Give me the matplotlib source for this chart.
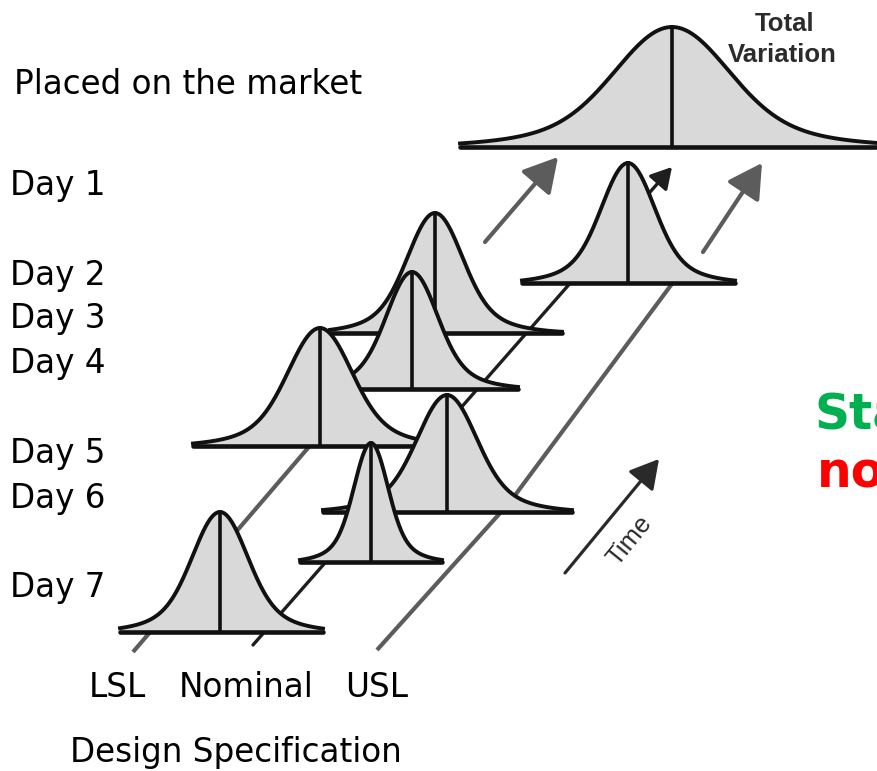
import numpy as np
import matplotlib
matplotlib.use("Agg")
import matplotlib.pyplot as plt

W, H = 878, 771

# bell curves (picture pixel units, y grows downward)
curve_names = ["Total Variation", "Day 1", "Day 2", "Day 3", "Day 4", "Day 5", "Day 6", "Day 7"]
curve_mu = [672, 628, 435, 412, 320, 447, 371, 220]
curve_base = [147, 283, 333, 389, 446, 512, 562, 632]
curve_height = [120, 120, 120, 117, 118, 117, 119, 120]
curve_sigma = [54, 25, 26, 24, 30, 28, 16, 26]
curve_left = [460, 522, 330, 335, 193, 323, 300, 120]
curve_right = [882, 735, 562, 518, 440, 572, 442, 323]

# spec limit lines going up through time
lsl_line_x = [133, 458]
lsl_line_y = [652, 273]
lsl_arrow_x = [485, 558]
lsl_arrow_y = [242, 157]
usl_line_x = [377, 510, 680]
usl_line_y = [650, 502, 273]
usl_arrow_x = [703, 762]
usl_arrow_y = [252, 163]
nom_x = [253, 672]
nom_y = [645, 167]
time_x = [565, 659]
time_y = [573, 459]

# left hand labels
day_labels = ["Placed on the market", "Day 1", "Day 2", "Day 3", "Day 4", "Day 5", "Day 6", "Day 7"]
day_label_x = [14, 10, 10, 10, 10, 10, 10, 10]
day_label_y = [94, 195, 285, 328, 373, 463, 508, 597]
spec_labels = ["LSL", "Nominal", "USL"]
spec_label_x = [89, 179, 345]
spec_label_y = 697

FILL = "#d9d9d9"
GRAY = "#5c5c5c"
INK = "#111111"


def bell(u):
    # normal shape with slightly heavier tails, like the drawing
    return 0.8 * np.exp(-u ** 2 / 2) + 0.2 * np.exp(-u ** 2 / 8)


fig = plt.figure(figsize=(W / 100, H / 100), dpi=100)
ax = fig.add_axes([0, 0, 1, 1])
ax.set_xlim(0, W)
ax.set_ylim(H, 0)
ax.axis("off")

# spec lines first so the curves hide them
ax.plot(lsl_line_x, lsl_line_y, color=GRAY, lw=3, zorder=2, solid_capstyle="butt")
ax.plot(usl_line_x, usl_line_y, color=GRAY, lw=3, zorder=2, solid_capstyle="butt")
big_head = dict(arrowstyle="-|>,head_length=0.8,head_width=0.45", color=GRAY, lw=3,
                shrinkA=0, shrinkB=0, mutation_scale=26)
ax.annotate("", xy=(lsl_arrow_x[1], lsl_arrow_y[1]), xytext=(lsl_arrow_x[0], lsl_arrow_y[0]),
            arrowprops=big_head, zorder=2)
ax.annotate("", xy=(usl_arrow_x[1], usl_arrow_y[1]), xytext=(usl_arrow_x[0], usl_arrow_y[0]),
            arrowprops=big_head, zorder=2)
ax.annotate("", xy=(nom_x[1], nom_y[1]), xytext=(nom_x[0], nom_y[0]),
            arrowprops=dict(arrowstyle="-|>,head_length=0.7,head_width=0.4", color="#1e1e1e",
                            lw=2.4, shrinkA=0, shrinkB=0, mutation_scale=18), zorder=3)

# curves, back to front
for i in range(len(curve_names)):
    z = 10 + 2 * i
    x = np.linspace(curve_left[i], curve_right[i], 400)
    y = curve_base[i] - curve_height[i] * bell((x - curve_mu[i]) / curve_sigma[i])
    ax.fill_between(x, y, curve_base[i], color=FILL, lw=0, zorder=z)
    ax.plot(x, y, color=INK, lw=2.8, zorder=z + 0.5)
    ax.plot([curve_left[i], curve_right[i]], [curve_base[i], curve_base[i]],
            color=INK, lw=3.3, zorder=z + 0.6, solid_capstyle="round")
    ax.plot([curve_mu[i], curve_mu[i]], [curve_base[i], curve_base[i] - curve_height[i]],
            color=INK, lw=2.6, zorder=z + 0.7)

# time arrow
ax.annotate("", xy=(time_x[1], time_y[1]), xytext=(time_x[0], time_y[0]),
            arrowprops=dict(arrowstyle="-|>,head_length=0.8,head_width=0.45", color="#2a2a2a",
                            lw=2.3, shrinkA=0, shrinkB=0, mutation_scale=22), zorder=30)
ax.text(630, 541, "Time", rotation=51, rotation_mode="anchor", ha="center", va="center",
        fontsize=18.5, family="Liberation Sans", color="#2a2a2a", zorder=30)

ax.text(785, 31, "Total", ha="center", va="baseline", fontsize=18.5, fontweight="bold",
        family="Liberation Sans", color="#2b2b2b", zorder=30)
ax.text(782, 62, "Variation", ha="center", va="baseline", fontsize=18.5, fontweight="bold",
        family="Liberation Sans", color="#2b2b2b", zorder=30)

for lab, lx, ly in zip(day_labels, day_label_x, day_label_y):
    ax.text(lx, ly, lab, ha="left", va="baseline", fontsize=23.5, family="DejaVu Sans",
            color="black", zorder=30)
for lab, lx in zip(spec_labels, spec_label_x):
    ax.text(lx, spec_label_y, lab, ha="left", va="baseline", fontsize=23.5,
            family="DejaVu Sans", color="black", zorder=30)
ax.text(70, 762, "Design Specification", ha="left", va="baseline", fontsize=23.5,
        family="DejaVu Sans", color="black", zorder=30)

# words cut off at the right edge, as in the source slide
ax.text(815, 430, "Sta", ha="left", va="baseline", fontsize=35, fontweight="bold",
        family="DejaVu Sans", color="#00b050", zorder=30)
ax.text(817, 487, "no", ha="left", va="baseline", fontsize=35, fontweight="bold",
        family="DejaVu Sans", color="#ff0000", zorder=30)

fig.savefig("out.png", dpi=100)
